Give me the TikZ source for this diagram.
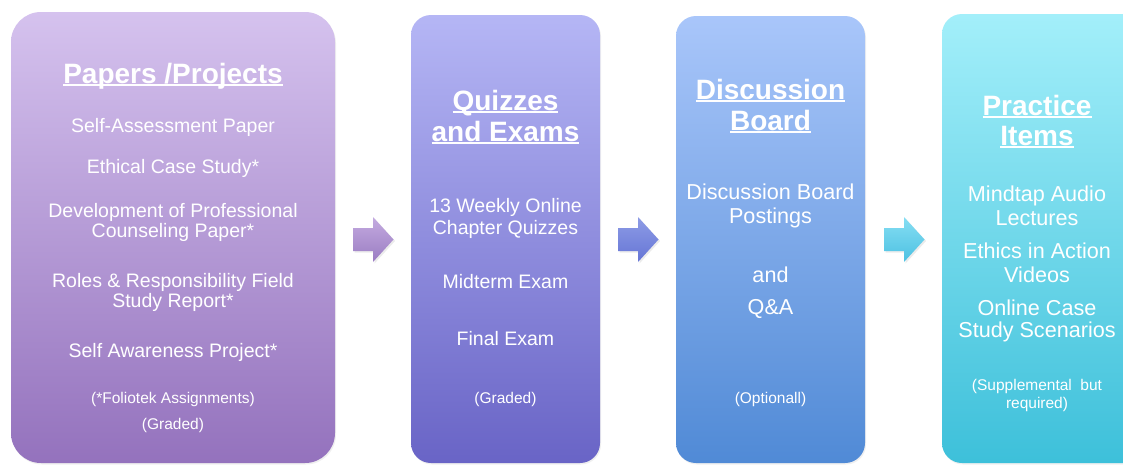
\documentclass[tikz,border=0pt]{standalone}
\usepackage{fontspec}
\setmainfont{Liberation Sans}
\usetikzlibrary{shadows}
\definecolor{aT}{HTML}{D5C2EE}\definecolor{aB}{HTML}{9472BD}
\definecolor{bT}{HTML}{B5B6F5}\definecolor{bB}{HTML}{6964C6}
\definecolor{cT}{HTML}{A9C6FA}\definecolor{cB}{HTML}{508AD6}
\definecolor{dT}{HTML}{A3EFFA}\definecolor{dB}{HTML}{3DC0DA}
\definecolor{raT}{HTML}{C4ABE0}\definecolor{raB}{HTML}{9A7CC2}
\definecolor{rbT}{HTML}{8E9CE6}\definecolor{rbB}{HTML}{6575D5}
\definecolor{rcT}{HTML}{86DEF3}\definecolor{rcB}{HTML}{4CC1E2}
\newcommand\myul[1]{\setbox0\hbox{#1}\rlap{\rule[-3pt]{\wd0}{1.9pt}}\box0}
\tikzset{
  box/.style={rectangle, draw=none, inner sep=0pt,
    drop shadow={opacity=0.12, shadow xshift=1pt, shadow yshift=-1.5pt}},
  txt/.style={text=white, anchor=base, inner sep=0pt},
  title/.style={txt, font=\fontsize{28}{30}\selectfont\bfseries},
  bodyA/.style={txt, font=\fontsize{19.5}{21}\selectfont},
  bodyB/.style={txt, font=\fontsize{21.6}{23}\selectfont},
  note/.style={txt, font=\fontsize{15.5}{17}\selectfont},
  blockarrow/.pic={
    \fill[black, opacity=0.08] (1.5,-10) -- (21.5,-10) -- (21.5,-21) -- (42,1.5) -- (21.5,24) -- (21.5,13) -- (1.5,13) -- cycle;
    \shade[top color=\arrT, bottom color=\arrB]
      (0,-11.5) -- (20,-11.5) -- (20,-22.5) -- (40.5,0) -- (20,22.5) -- (20,11.5) -- (0,11.5) -- cycle;
  }
}
\begin{document}
\begin{tikzpicture}[x=1pt,y=-1pt]
\useasboundingbox (0,0) rectangle (1123,464);
\fill[white] (0,0) rectangle (1123,464);
% boxes
\node[box, top color=aT, bottom color=aB, minimum width=324pt, minimum height=451pt, rounded corners=30pt] (b1) at (173,237.5) {};
\node[box, top color=bT, bottom color=bB, minimum width=189pt, minimum height=448pt, rounded corners=20pt] (b2) at (505.5,239) {};
\node[box, top color=cT, bottom color=cB, minimum width=189pt, minimum height=447pt, rounded corners=20pt] (b3) at (770.5,239.5) {};
\node[box, top color=dT, bottom color=dB, minimum width=210pt, minimum height=449pt, rounded corners=20pt] (b4) at (1047,238.5) {};
% arrows
\def\arrT{raT}\def\arrB{raB}
\pic (r1) at (353,239.5) {blockarrow};
\def\arrT{rbT}\def\arrB{rbB}
\pic (r2) at (618,239.5) {blockarrow};
\def\arrT{rcT}\def\arrB{rcB}
\pic (r3) at (884,239.5) {blockarrow};
% box 1
\node[title] (a0) at (173,83) {\myul{Papers /Projects}};
\node[bodyA] (a1) at (173,132) {Self-Assessment Paper};
\node[bodyA] (a2) at (173,173) {Ethical Case Study*};
\node[bodyA] (a3) at (173,217) {Development of Professional};
\node[bodyA] (a4) at (173,237) {Counseling Paper*};
\node[bodyA] (a5) at (173,287) {Roles \& Responsibility Field};
\node[bodyA] (a6) at (173,307) {Study Report*};
\node[bodyA] (a7) at (173,357) {Self Awareness Project*};
\node[note] (a8) at (173,403) {(*Foliotek Assignments)};
\node[note] (a9) at (173,429) {(Graded)};
% box 2
\node[title] (q0) at (505.5,110) {\myul{Quizzes}};
\node[title] (q1) at (505.5,141) {\myul{and Exams}};
\node[bodyA] (q2) at (505.5,212) {13 Weekly Online};
\node[bodyA] (q3) at (505.5,234) {Chapter Quizzes};
\node[bodyA] (q4) at (505.5,288) {Midterm Exam};
\node[bodyA] (q5) at (505.5,345) {Final Exam};
\node[note] (q6) at (505.5,403) {(Graded)};
% box 3
\node[title] (d0) at (770.5,99) {\myul{Discussion}};
\node[title] (d1) at (770.5,130) {\myul{Board}};
\node[bodyB] (d2) at (770.5,199) {Discussion Board};
\node[bodyB] (d3) at (770.5,223) {Postings};
\node[bodyB] (d4) at (770.5,282) {and};
\node[bodyB] (d5) at (770.5,314) {Q\&A};
\node[note] (d6) at (770.5,403) {(Optionall)};
% box 4
\node[title] (p0) at (1037,115) {\myul{Practice}};
\node[title] (p1) at (1037,145) {\myul{Items}};
\node[bodyB] (p2) at (1037,201) {Mindtap Audio};
\node[bodyB] (p3) at (1037,225) {Lectures};
\node[bodyB] (p4) at (1037,258) {Ethics in Action};
\node[bodyB] (p5) at (1037,282) {Videos};
\node[bodyB] (p6) at (1037,315) {Online Case};
\node[bodyB] (p7) at (1037,337) {Study Scenarios};
\node[note] (p8) at (1037,390) {(Supplemental\ \ but};
\node[note] (p9) at (1037,408) {required)};
\end{tikzpicture}
\end{document}
